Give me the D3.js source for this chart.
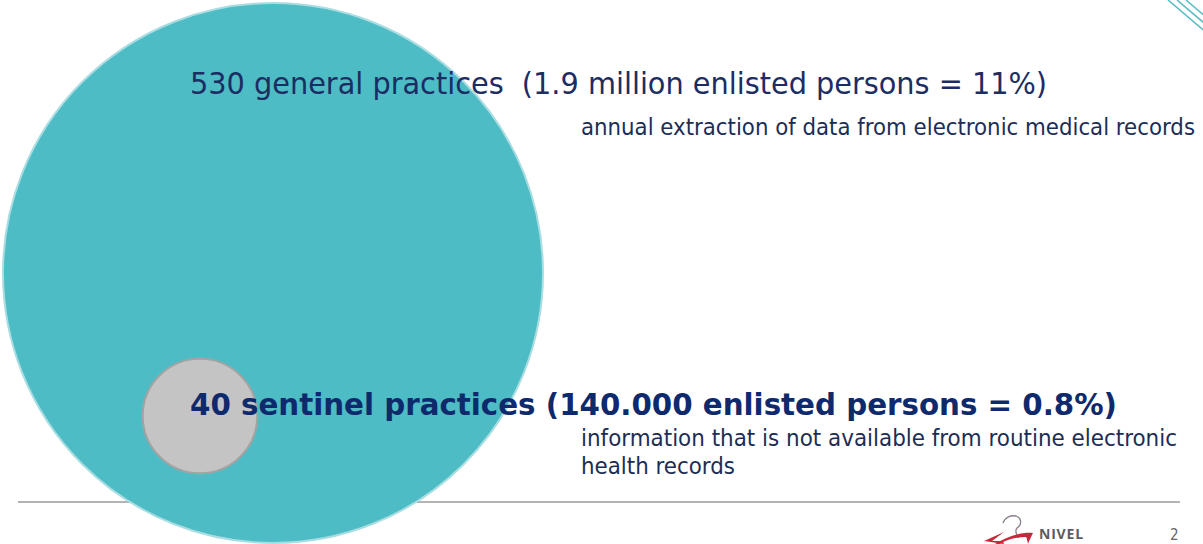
<!DOCTYPE html>
<html><head><meta charset="utf-8">
<script src="https://cdn.jsdelivr.net/npm/d3@7"></script>
<style>
html,body{margin:0;padding:0;background:#fff;overflow:hidden}
svg{display:block}
text{font-family:"DejaVu Sans Condensed","DejaVu Sans",sans-serif}
</style></head>
<body>
<script>
// ---- data ----
const groups = ["general practices", "sentinel practices"];
const practices = [530, 40];
const enlisted = ["1.9 million", "140.000"];
const shares = ["11%", "0.8%"];
const circleArea = [1, 0.045]; // relative circle areas
const subTexts = [
  ["annual extraction of data from electronic medical records"],
  ["information that is not available from routine electronic", "health records"]
];
const pageNumber = "2";
const logoText = "NIVEL";

const W = 1203, H = 544;
const svg = d3.select("body").append("svg").attr("width", W).attr("height", H);

// bottom rule (behind the circles)
svg.append("line").attr("x1", 18).attr("x2", 1180).attr("y1", 502).attr("y2", 502)
  .attr("stroke", "#9a9a9a").attr("stroke-width", 1.5);

const r = d3.scaleSqrt().domain([0, 1]).range([0, 270]);
const centers = [[273, 273], [200, 416]];
const fills = ["#4dbcc5", "#c4c4c4"];
const strokes = ["#a9dde2", "#a3a3a3"];

svg.selectAll("circle.c").data(circleArea).join("circle")
  .attr("class", "c")
  .attr("cx", (d, i) => centers[i][0]).attr("cy", (d, i) => centers[i][1])
  .attr("r", d => r(d))
  .attr("fill", (d, i) => fills[i]).attr("stroke", (d, i) => strokes[i])
  .attr("stroke-width", 2);

// top-right decorative lines
[1168, 1177, 1186].forEach(x0 => {
  svg.append("line").attr("x1", x0).attr("y1", 0).attr("x2", x0 + 40).attr("y2", 34)
    .attr("stroke", "#5bbcc4").attr("stroke-width", 1.6);
});

// headlines
const heads = [
  {t: `${practices[0]} ${groups[0]}  (${enlisted[0]} enlisted persons = ${shares[0]})`, x: 190, y: 94, size: 31, w: 857, bold: false, color: "#1c2d63"},
  {t: `${practices[1]} ${groups[1]} (${enlisted[1]} enlisted persons = ${shares[1]})`, x: 190, y: 415, size: 30, w: 927, bold: true, color: "#0f2a6c"}
];
heads.forEach(h => {
  svg.append("text").attr("x", h.x).attr("y", h.y).text(h.t)
    .attr("font-size", h.size).attr("font-weight", h.bold ? "bold" : "normal")
    .attr("fill", h.color).attr("textLength", h.w).attr("lengthAdjust", "spacingAndGlyphs")
    .style("white-space", "pre");
});

const subs = [
  {lines: subTexts[0], x: 581, y: 135, widths: [614]},
  {lines: subTexts[1], x: 581, y: 446, widths: [596, 154]}
];
subs.forEach(s => {
  s.lines.forEach((l, i) => {
    svg.append("text").attr("x", s.x).attr("y", s.y + i * 28).text(l)
      .attr("font-size", 23).attr("fill", "#1c2d55")
      .attr("textLength", s.widths[i]).attr("lengthAdjust", "spacingAndGlyphs");
  });
});

// logo
const g = svg.append("g");
g.append("path").attr("d", "M1003,523 C1005,517 1011,515 1016,516 C1022,518 1022,525 1017,528 C1015,530 1016,534 1018,538")
  .attr("fill", "none").attr("stroke", "#8a7f8c").attr("stroke-width", 1.3);
g.append("path").attr("d", "M1004,532 L984,541 L1004,544 L1003,541 L992,541 Z")
  .attr("fill", "#c8283c");
g.append("path").attr("d", "M995,544 C1008,536 1022,532 1033,533 C1031,537 1029,541 1028,544 C1027,540 1027,538 1026,537 C1016,537 1006,540 1000,544 Z")
  .attr("fill", "#c8283c");
svg.append("text").attr("x", 1039).attr("y", 539).text(logoText)
  .attr("font-size", 14).attr("font-weight", "bold").attr("fill", "#5c5c5c")
  .style("font-family", "'Open Sans', sans-serif").attr("letter-spacing", 0.8);
svg.append("text").attr("x", 1170).attr("y", 540).text(pageNumber)
  .attr("font-size", 15).attr("fill", "#666");
</script>
</body></html>
